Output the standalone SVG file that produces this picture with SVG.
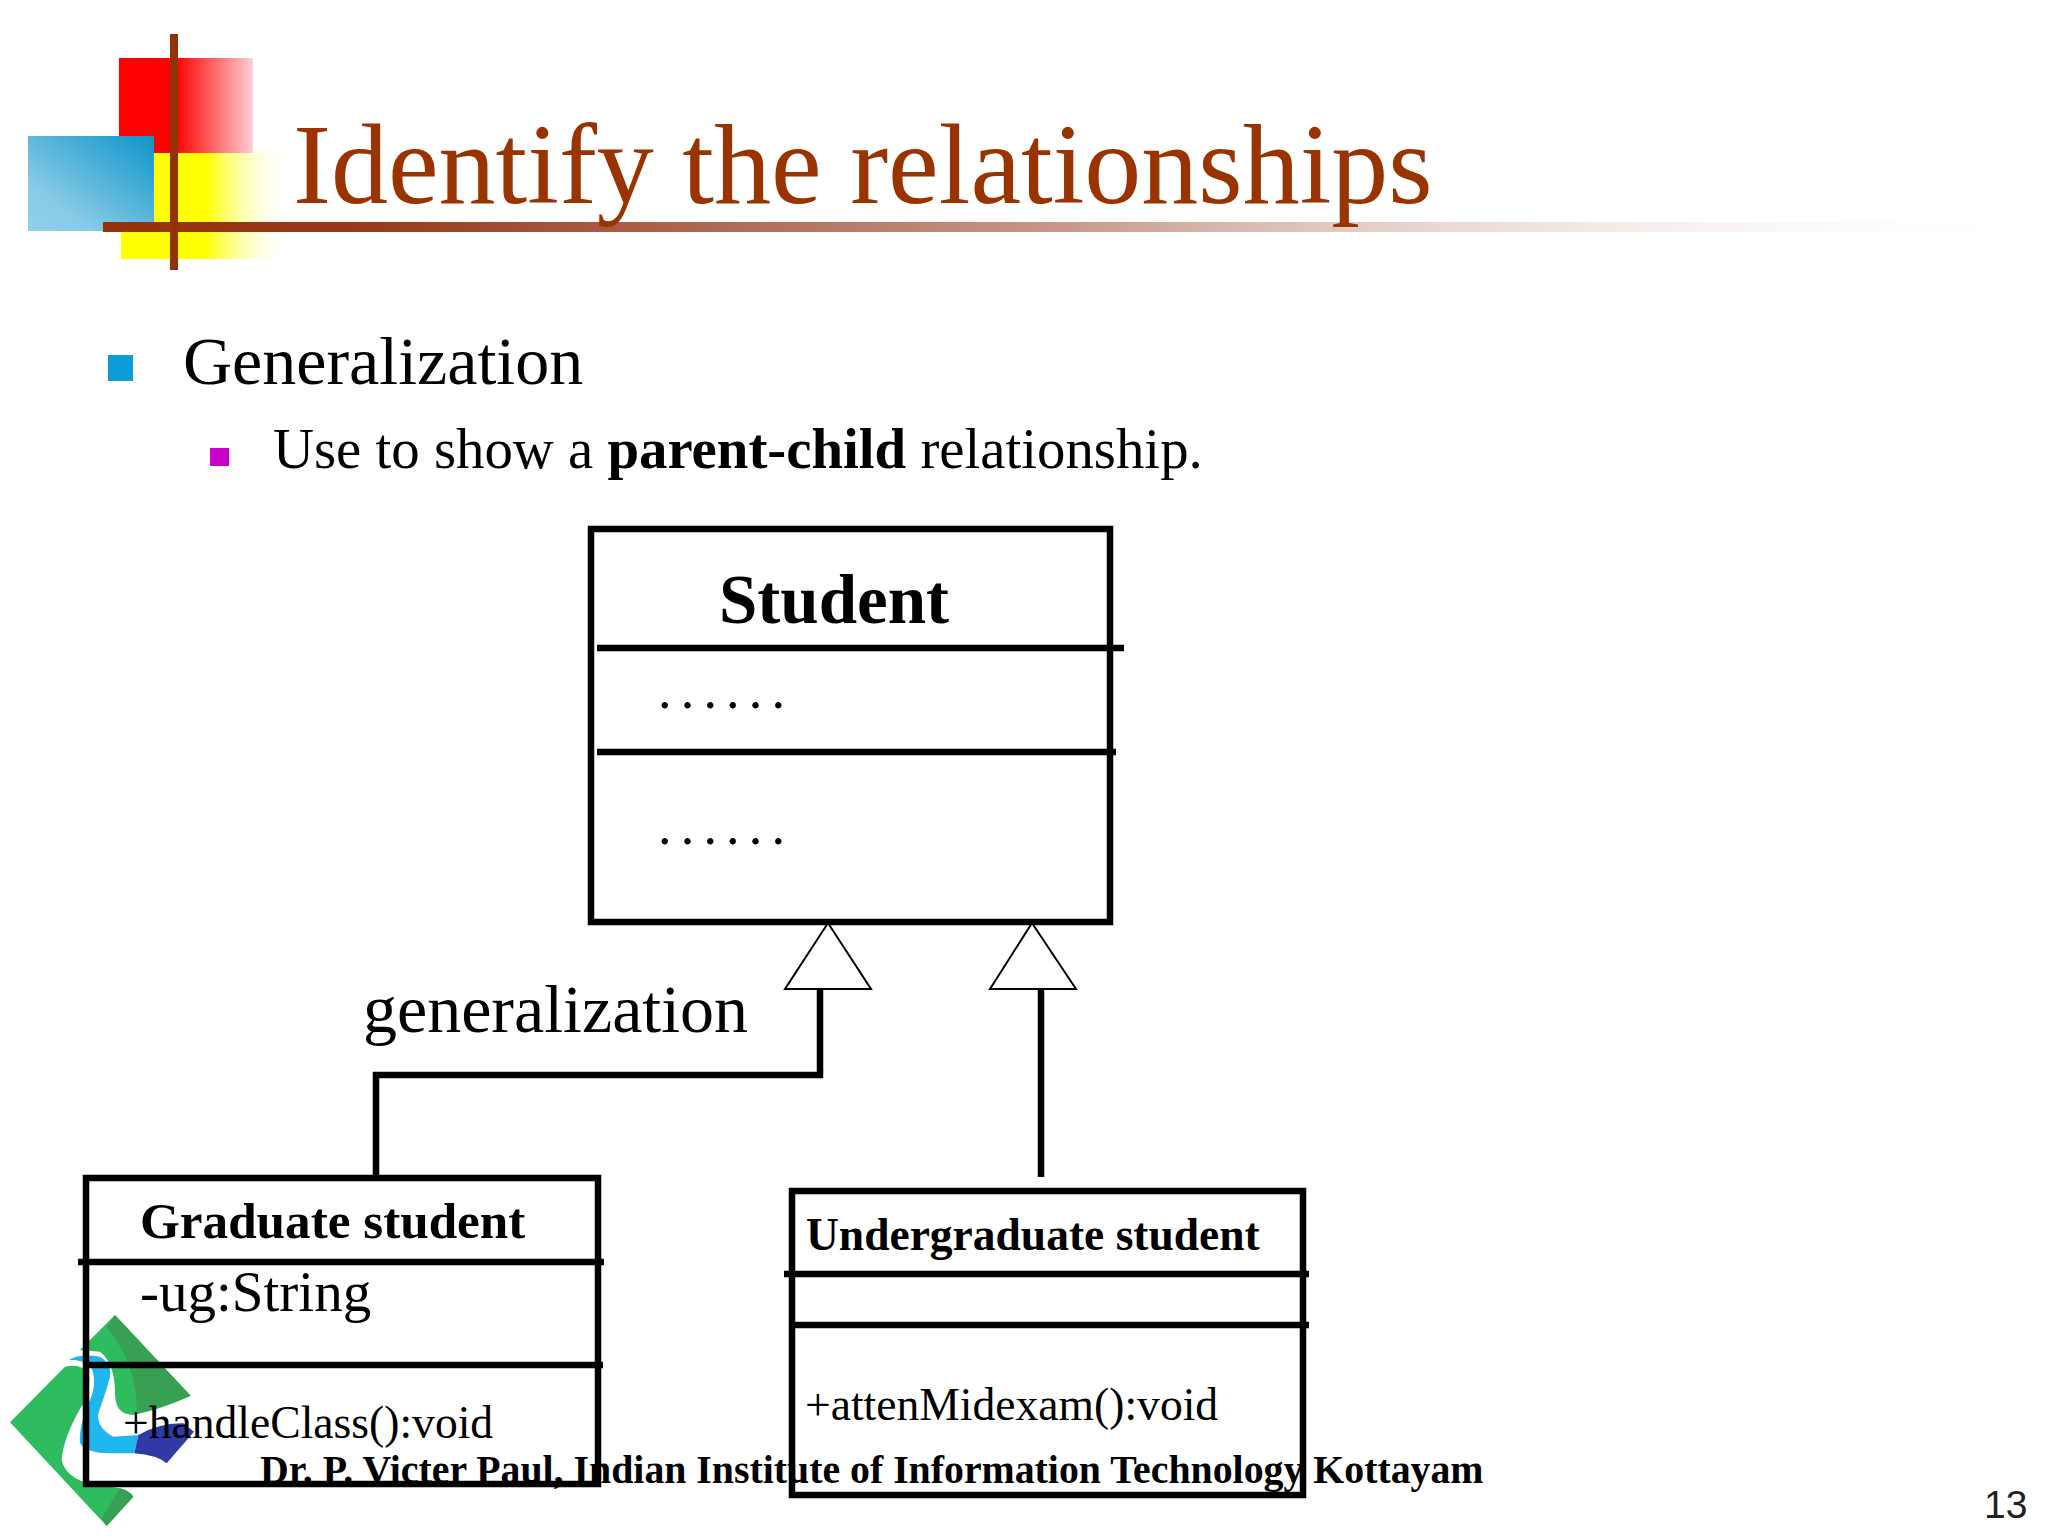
<svg xmlns="http://www.w3.org/2000/svg" width="2048" height="1536" viewBox="0 0 2048 1536">
<style>
.s{font-family:"Liberation Serif","Times New Roman",serif;fill:#000}
.b{font-weight:bold}
.box{fill:none;stroke:#000;stroke-width:6.5}
.ln{fill:none;stroke:#000;stroke-width:6.5}
.tri{fill:#fff;stroke:#000;stroke-width:2}
.dots{letter-spacing:9.2px}
</style>
<defs>
<linearGradient id="gr" x1="0" x2="1" y1="0" y2="0"><stop offset="0" stop-color="#f00"/><stop offset="0.42" stop-color="#f00"/><stop offset="1" stop-color="#ffd0d4"/></linearGradient>
<linearGradient id="gy" x1="0" x2="1" y1="0" y2="0"><stop offset="0" stop-color="#ff0"/><stop offset="0.5" stop-color="#ff0"/><stop offset="1" stop-color="#fff" stop-opacity="0"/></linearGradient>
<linearGradient id="gb" x1="1" x2="0" y1="0" y2="1"><stop offset="0" stop-color="#0f94c9"/><stop offset="0.75" stop-color="#88cbe6"/><stop offset="1" stop-color="#8fd0ea"/></linearGradient>
<linearGradient id="gh" x1="0" x2="1" y1="0" y2="0"><stop offset="0" stop-color="#933208"/><stop offset="0.14" stop-color="#993a1c"/><stop offset="0.5" stop-color="#c89a8c"/><stop offset="1" stop-color="#fff" stop-opacity="0"/></linearGradient>
</defs>
<rect width="2048" height="1536" fill="#fff"/>
<g id="decoration">
<rect x="119" y="58" width="134" height="95" fill="url(#gr)"/>
<rect x="121" y="153" width="170" height="106" fill="url(#gy)"/>
<rect x="28" y="136" width="126" height="95" fill="url(#gb)"/>
<rect x="103" y="222" width="1945" height="10" fill="url(#gh)"/>
<rect x="170" y="34" width="8" height="236" fill="#933208"/>
</g>
<text id="title" x="293" y="203" font-size="114" style="font-family:'Liberation Serif',serif;fill:#993300">Identify the relationships</text>
<g id="bullets">
<rect x="108" y="355" width="25" height="26" fill="#0b9cd6"/>
<text class="s" x="183" y="384" font-size="68">Generalization</text>
<rect x="210" y="448" width="19" height="18" fill="#cc00cc"/>
<text class="s" x="273" y="468" font-size="56.8">Use to show a <tspan class="b">parent-child</tspan> relationship.</text>
</g>
<g id="logo" transform="translate(0,1300) scale(0.3333)">
<path d="M345 45L572 287Q480 325 400 345Q345 345 345 280Q345 190 300 155L240 150Z" fill="#2fbc5f"/>
<path d="M345 45L572 287Q490 325 410 342Q415 200 320 80Z" fill="#37a052"/>
<path d="M30 367L195 200Q235 190 265 215Q275 240 250 310Q190 410 185 480Q195 525 250 545L360 565Q385 570 400 590L320 678Z" fill="#2fbc5f"/>
<path d="M360 565Q385 570 400 590L320 678L305 655Z" fill="#37a052"/>
<path d="M207 180Q240 160 300 170Q335 190 330 230Q320 270 295 340Q290 385 340 410L415 405L403 460L330 460Q260 460 240 430Q235 380 270 300Q295 240 270 195Q240 178 207 180Z" fill="#1fb6ee"/>
<path d="M415 405Q480 368 550 370L582 395L500 490Q470 465 403 460Z" fill="#2f3aa5"/>
</g>
<g id="student">
<rect class="box" x="591" y="529" width="519" height="393"/>
<path class="ln" d="M597 648H1124M597 752H1116"/>
<text class="s b" x="834" y="623" text-anchor="middle" font-size="69">Student</text>
<text class="s dots" x="658" y="708" font-size="54">......</text>
<text class="s dots" x="658" y="844" font-size="54">......</text>
</g>
<g id="connectors">
<path class="ln" d="M820 989V1075H376V1176"/>
<path class="ln" d="M1041 989V1177"/>
<path class="tri" d="M828 923L871 989H785Z"/>
<path class="tri" d="M1032 923L1076 989H990Z"/>
</g>
<text id="label" class="s" x="363" y="1032" font-size="68">generalization</text>
<g id="graduate">
<rect class="box" x="86" y="1178" width="512" height="306"/>
<path class="ln" d="M78 1262H604M86 1365H603"/>
<text class="s b" x="140" y="1238" font-size="51.2">Graduate student</text>
<text class="s" x="140" y="1311" font-size="57">-ug:String</text>
<text class="s" x="123" y="1438" font-size="45.6">+handleClass():void</text>
</g>
<g id="undergraduate">
<rect class="box" x="792" y="1191" width="511" height="304"/>
<path class="ln" d="M784 1274H1309M792 1325H1309"/>
<text class="s b" x="806" y="1250" font-size="45.5">Undergraduate student</text>
<text class="s" x="805" y="1420" font-size="45.6">+attenMidexam():void</text>
</g>
<text id="footer" class="s b" x="260" y="1483" font-size="39.8">Dr. P. Victer Paul, Indian Institute of Information Technology Kottayam</text>
<text id="page" x="1984" y="1518" font-size="39" style="font-family:'Liberation Sans',sans-serif;fill:#222">13</text>
</svg>
